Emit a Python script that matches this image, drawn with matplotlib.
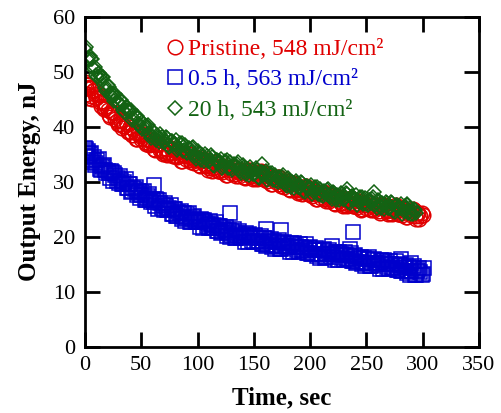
import matplotlib
matplotlib.use("Agg")
import matplotlib.pyplot as plt

plt.rcParams['font.family'] = ['Liberation Serif', 'DejaVu Serif']

# sampled every 2 s (even and odd seconds typed separately), plus a few stray points
t_pristine = list(range(0, 302, 2)) + list(range(1, 300, 2)) + [1, 3, 5]
e_pristine = [
    48.2, 46.0, 47.3, 45.1, 46.6,
    45.2, 45.8, 43.8, 44.3, 43.4,
    43.1, 41.7, 42.7, 42.5, 41.0,
    40.4, 41.0, 40.1, 40.9, 39.1,
    39.9, 38.5, 39.0, 37.7, 38.7,
    37.7, 38.6, 36.8, 37.6, 36.9,
    36.9, 35.7, 36.9, 36.9, 35.6,
    35.2, 35.9, 35.3, 36.2, 34.7,
    35.6, 34.4, 35.0, 33.8, 34.9,
    34.1, 35.1, 33.5, 34.4, 33.9,
    34.0, 32.8, 34.0, 34.1, 32.8,
    32.4, 33.2, 32.5, 33.5, 31.9,
    32.9, 31.7, 32.3, 31.3, 32.4,
    31.6, 32.6, 31.1, 32.0, 31.6,
    31.7, 30.6, 32.0, 32.1, 31.0,
    30.7, 31.5, 30.9, 31.9, 30.4,
    31.4, 30.2, 30.8, 29.6, 30.7,
    29.9, 30.9, 29.2, 30.1, 29.5,
    29.6, 28.5, 29.7, 29.8, 28.5,
    28.2, 28.9, 28.3, 29.2, 27.7,
    28.6, 27.4, 28.0, 26.8, 27.9,
    27.1, 28.1, 26.5, 27.4, 26.9,
    27.0, 25.9, 27.2, 27.3, 26.1,
    25.8, 26.6, 26.0, 27.1, 25.6,
    26.6, 25.4, 26.0, 25.0, 26.1,
    25.3, 26.3, 24.8, 25.7, 25.3,
    25.4, 24.3, 25.7, 25.8, 24.7,
    24.4, 25.2, 24.6, 25.7, 24.2,
    25.2, 24.0, 24.6, 23.6, 24.7,
    23.9, 24.9, 23.3, 24.3, 23.8,
    24.0,
    # odd seconds
    47.1, 47.5, 45.6, 46.5, 45.9,
    46.0, 44.4, 44.6, 43.2, 43.8,
    42.2, 42.7, 42.7, 41.4, 40.4,
    41.2, 39.7, 40.1, 40.5, 39.1,
    39.0, 39.5, 37.8, 38.8, 38.3,
    38.7, 37.2, 37.7, 36.6, 37.4,
    36.0, 36.7, 36.9, 35.8, 35.0,
    36.1, 34.8, 35.3, 35.9, 34.7,
    34.7, 35.4, 33.8, 35.0, 34.7,
    35.2, 33.9, 34.4, 33.4, 34.4,
    33.1, 33.8, 34.1, 33.0, 32.2,
    33.4, 32.0, 32.6, 33.2, 32.0,
    32.1, 32.8, 31.2, 32.4, 32.1,
    32.7, 31.4, 32.1, 31.1, 32.1,
    30.9, 31.7, 32.1, 31.1, 30.4,
    31.7, 30.4, 31.0, 31.7, 30.4,
    30.5, 31.2, 29.6, 30.8, 30.5,
    30.9, 29.6, 30.2, 29.1, 30.1,
    28.7, 29.5, 29.8, 28.7, 28.0,
    29.1, 27.8, 28.3, 28.9, 27.7,
    27.7, 28.4, 26.8, 28.0, 27.7,
    28.2, 26.9, 27.5, 26.5, 27.5,
    26.2, 27.0, 27.3, 26.2, 25.5,
    26.8, 25.5, 26.1, 26.8, 25.6,
    25.8, 26.5, 24.9, 26.1, 25.8,
    26.4, 25.1, 25.8, 24.8, 25.8,
    24.6, 25.4, 25.8, 24.8, 24.1,
    25.4, 24.1, 24.7, 25.4, 24.2,
    24.4, 25.1, 23.5, 24.7, 24.4,
    25.0, 23.7, 24.3, 23.3, 24.3,
    # strays
    47.8, 45.3, 47.0,
]

t_05h = (list(range(0, 302, 2)) + list(range(1, 300, 2))
         + [1, 3, 61, 129, 161, 174, 219, 235, 238, 281, 290, 301])
e_05h = [
    36.1, 34.6, 35.0, 33.6, 34.5,
    33.4, 34.1, 32.2, 32.9, 32.1,
    31.9, 30.6, 31.7, 31.6, 30.2,
    29.7, 30.3, 29.6, 30.4, 28.8,
    29.6, 28.3, 28.7, 27.5, 28.4,
    27.5, 28.4, 26.6, 27.4, 26.7,
    26.7, 25.5, 26.7, 26.6, 25.3,
    24.9, 25.6, 24.9, 25.8, 24.2,
    25.1, 23.8, 24.4, 23.2, 24.3,
    23.4, 24.3, 22.7, 23.5, 23.0,
    23.0, 21.8, 23.1, 23.1, 21.9,
    21.5, 22.3, 21.6, 22.6, 21.0,
    22.0, 20.8, 21.3, 20.2, 21.2,
    20.4, 21.4, 19.8, 20.6, 20.1,
    20.2, 19.1, 20.4, 20.5, 19.3,
    19.0, 19.8, 19.2, 20.2, 18.7,
    19.7, 18.5, 19.1, 18.1, 19.2,
    18.4, 19.4, 17.8, 18.8, 18.3,
    18.4, 17.3, 18.6, 18.8, 17.6,
    17.3, 18.1, 17.5, 18.6, 17.1,
    18.1, 16.9, 17.5, 16.5, 17.6,
    16.8, 17.8, 16.3, 17.2, 16.8,
    16.9, 15.8, 17.1, 17.3, 16.1,
    15.8, 16.6, 16.0, 17.1, 15.6,
    16.6, 15.4, 16.0, 15.0, 16.1,
    15.3, 16.3, 14.7, 15.7, 15.2,
    15.3, 14.2, 15.5, 15.7, 14.5,
    14.2, 15.0, 14.4, 15.5, 14.0,
    15.0, 13.8, 14.4, 13.4, 14.5,
    13.7, 14.7, 13.1, 14.0, 13.5,
    13.2,
    # odd seconds
    34.6, 35.2, 35.2, 33.9, 33.0,
    33.9, 32.3, 32.6, 33.1, 31.6,
    31.5, 32.0, 30.2, 31.2, 30.7,
    31.0, 29.5, 30.0, 28.8, 29.6,
    28.2, 28.8, 29.0, 27.9, 27.0,
    28.1, 26.6, 27.1, 27.7, 26.3,
    26.3, 26.9, 25.1, 26.2, 25.8,
    26.2, 24.8, 25.3, 24.2, 25.1,
    23.7, 24.5, 24.7, 23.6, 22.9,
    24.1, 22.7, 23.2, 23.8, 22.6,
    22.6, 23.3, 21.6, 22.7, 22.4,
    22.9, 21.5, 22.1, 21.0, 22.0,
    20.7, 21.4, 21.7, 20.6, 19.9,
    21.1, 19.7, 20.3, 21.0, 19.8,
    19.9, 20.6, 19.0, 20.2, 19.9,
    20.4, 19.1, 19.7, 18.7, 19.7,
    18.4, 19.2, 19.5, 18.5, 17.8,
    19.1, 17.8, 18.4, 19.1, 17.9,
    18.1, 18.8, 17.2, 18.4, 18.1,
    18.7, 17.4, 18.0, 17.0, 18.0,
    16.8, 17.6, 17.9, 16.9, 16.2,
    17.5, 16.2, 16.8, 17.6, 16.4,
    16.6, 17.3, 15.7, 16.9, 16.6,
    17.2, 15.9, 16.5, 15.5, 16.5,
    15.3, 16.1, 16.4, 15.4, 14.7,
    16.0, 14.7, 15.3, 16.0, 14.8,
    15.0, 15.7, 14.1, 15.3, 15.0,
    15.6, 14.3, 14.9, 13.9, 14.9,
    13.7, 14.5, 14.8, 13.8, 13.1,
    14.4, 13.1, 13.7, 14.3, 13.1,
    # strays
    35.9, 35.6, 29.4, 24.4, 21.4, 21.2, 18.3, 17.8, 20.8, 16.0, 15.3, 14.3,
]

t_20h = list(range(0, 296, 2)) + list(range(1, 294, 2)) + [157, 233, 257, 286]
e_20h = [
    54.1, 52.3, 52.9, 52.3, 50.4,
    49.4, 49.7, 48.6, 49.1, 47.1,
    47.6, 46.0, 46.2, 44.7, 45.4,
    44.2, 44.9, 43.0, 43.6, 42.8,
    42.6, 41.2, 42.2, 42.0, 40.5,
    39.9, 40.4, 39.5, 40.3, 38.5,
    39.2, 37.9, 38.4, 37.2, 38.2,
    37.3, 38.2, 36.6, 37.4, 36.9,
    36.9, 35.7, 37.0, 37.0, 35.8,
    35.4, 36.1, 35.4, 36.3, 34.7,
    35.6, 34.3, 34.8, 33.7, 34.7,
    33.8, 34.8, 33.1, 34.0, 33.4,
    33.5, 32.4, 33.7, 33.9, 32.7,
    32.4, 33.2, 32.6, 33.5, 32.0,
    33.0, 31.8, 32.3, 31.2, 32.2,
    31.4, 32.4, 30.8, 31.8, 31.3,
    31.4, 30.3, 31.6, 31.6, 30.4,
    30.1, 30.9, 30.2, 31.2, 29.6,
    30.6, 29.4, 29.9, 28.8, 29.8,
    29.0, 30.0, 28.4, 29.2, 28.7,
    28.8, 27.7, 29.0, 29.0, 27.8,
    27.5, 28.3, 27.7, 28.7, 27.2,
    28.2, 27.0, 27.6, 26.6, 27.7,
    26.9, 27.9, 26.3, 27.3, 26.8,
    26.9, 25.8, 27.2, 27.3, 26.2,
    25.9, 26.7, 26.1, 27.2, 25.7,
    26.7, 25.5, 26.1, 25.0, 26.1,
    25.3, 26.3, 24.7, 25.7, 25.2,
    25.3, 24.2, 25.5, 25.7, 24.5,
    24.2, 25.0, 24.4,
    # odd seconds
    54.4, 52.4, 52.3, 50.6, 50.9,
    49.0, 49.3, 49.1, 47.6, 46.4,
    47.2, 45.5, 45.7, 46.0, 44.4,
    44.1, 44.5, 42.6, 43.5, 42.9,
    43.1, 41.5, 41.8, 40.5, 41.2,
    39.6, 40.1, 40.2, 38.9, 37.9,
    38.9, 37.5, 38.0, 38.6, 37.3,
    37.4, 38.0, 36.3, 37.4, 37.1,
    37.6, 36.2, 36.7, 35.6, 36.6,
    35.2, 35.9, 36.1, 35.0, 34.2,
    35.3, 33.9, 34.5, 35.1, 33.8,
    33.9, 34.5, 32.9, 34.0, 33.7,
    34.2, 32.9, 33.5, 32.5, 33.5,
    32.2, 33.0, 33.3, 32.3, 31.6,
    32.7, 31.4, 32.0, 32.6, 31.4,
    31.5, 32.2, 30.6, 31.8, 31.5,
    32.0, 30.7, 31.3, 30.3, 31.3,
    29.9, 30.7, 30.9, 29.9, 29.2,
    30.3, 29.0, 29.6, 30.2, 29.0,
    29.0, 29.7, 28.1, 29.3, 29.0,
    29.4, 28.1, 28.7, 27.7, 28.7,
    27.4, 28.2, 28.5, 27.5, 26.8,
    28.0, 26.7, 27.3, 28.0, 26.8,
    27.0, 27.7, 26.1, 27.4, 27.1,
    27.6, 26.3, 27.0, 26.0, 27.0,
    25.8, 26.6, 26.9, 25.9, 25.2,
    26.5, 25.2, 25.8, 26.4, 25.2,
    25.4, 26.1, 24.5, 25.7, 25.4,
    26.0, 24.7, 25.3, 24.3, 25.3,
    24.1, 24.9,
    # strays
    33.2, 28.7, 28.1, 26.0,
]

red = '#e00000'
blue = '#0000cc'
green = '#136313'

fig = plt.figure(figsize=(5.01, 4.13), dpi=100)
ax = fig.add_axes([0.1697, 0.1605, 0.7864, 0.7991])

ax.plot(t_pristine, e_pristine, 'o', ls='none', ms=10.5, mfc='none', mec=red, mew=1.1,
        label='Pristine, 548 mJ/cm²')
ax.plot(t_05h, e_05h, 's', ls='none', ms=9.6, mfc='none', mec=blue, mew=1.1,
        label='0.5 h, 563 mJ/cm²')
ax.plot(t_20h, e_20h, 'D', ls='none', ms=7.6, mfc='none', mec=green, mew=1.1,
        label='20 h, 543 mJ/cm²')

ax.set_xlim(0, 350)
ax.set_ylim(0, 60)
ax.set_xticks(range(0, 351, 50))
ax.set_yticks(range(0, 61, 10))
ax.tick_params(direction='in', length=11, width=2, top=True, right=True,
               labelsize=16, pad=7)
for s in ax.spines.values():
    s.set_linewidth(2)

ax.set_xlabel('Time, sec', fontsize=18, fontweight='bold', labelpad=8)
ax.set_ylabel('Output Energy, nJ', fontsize=18, fontweight='bold', labelpad=9)

leg = ax.legend(loc='upper left', bbox_to_anchor=(0.199, 0.934), frameon=False,
                fontsize=17, numpoints=1, handlelength=1.0, handletextpad=0.05,
                labelspacing=0.38, borderpad=0, borderaxespad=0,
                labelcolor=[red, blue, green])

fig.savefig('out.png', dpi=100)
